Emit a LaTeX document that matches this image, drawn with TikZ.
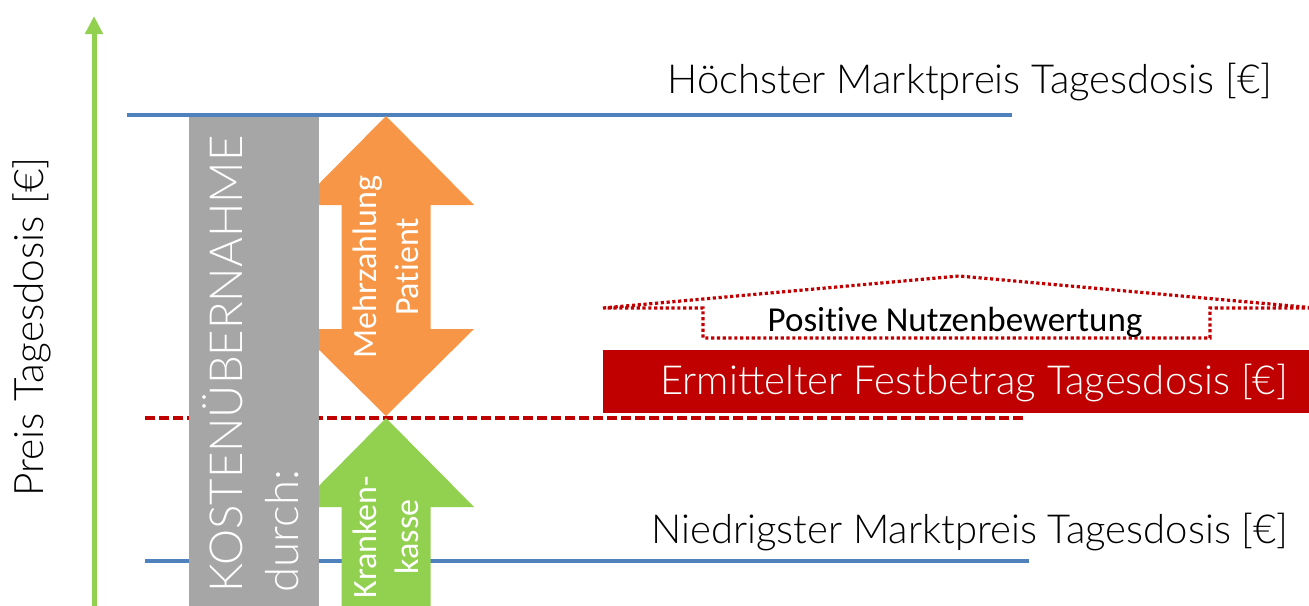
\documentclass[tikz,border=0pt]{standalone}
\usepackage{fontspec}
\setmainfont{Carlito}[Ligatures=NoCommon]
\IfFontExistsTF{Lato Light}{\newfontfamily\thinfont{Lato Light}}{\newfontfamily\thinfont{Lato}}
\usetikzlibrary{arrows.meta}
\definecolor{axisgreen}{HTML}{92D050}
\definecolor{levelblue}{HTML}{4F81BD}
\definecolor{fixred}{HTML}{C00000}
\definecolor{extraorange}{HTML}{F79646}
\definecolor{covergray}{HTML}{A6A6A6}
\tikzset{level line/.style={levelblue, line width=2pt}}
\tikzset{fix line/.style={fixred, line width=2pt, dash pattern=on 5pt off 2pt}}
\tikzset{benefit line/.style={fixred, line width=1.6pt, dash pattern=on 1.6pt off 1.3pt}}
\tikzset{
    price label/.style={font=\thinfont\fontsize{20}{24}\selectfont, anchor=base, inner sep=0pt},
    cover label/.style={font=\thinfont\fontsize{22.8}{27}\selectfont, white, rotate=90, anchor=base west, inner sep=0pt},
    arrow label/.style={font=\fontsize{17}{21}\selectfont, white, align=center, rotate=90, inner sep=0pt}
}

\begin{document}
\begin{tikzpicture}[x=0.5pt, y=-0.5pt]
    \useasboundingbox (0, 0) rectangle (1309, 605);
    \clip (0, 0) rectangle (1309, 605);

    \draw[level line] (127, 115) -- (1012, 115);
    \draw[level line] (145, 561) -- (1029, 561);
    \draw[fix line] (145, 418) -- (1025, 418);

    \fill[extraorange] (386, 116) -- (474, 205) -- (430.5, 205) -- (430.5, 329)
        -- (474, 329) -- (386, 416) -- (298, 329) -- (341.5, 329)
        -- (341.5, 205) -- (298, 205) -- cycle;
    \fill[axisgreen] (386, 418) -- (474, 507) -- (430.5, 507) -- (430.5, 610)
        -- (341.5, 610) -- (341.5, 507) -- (298, 507) -- cycle;
    \fill[covergray] (189, 117) rectangle (319, 610);

    \draw[benefit line] (603, 308) -- (959, 276) -- (1315, 308) -- (1210, 308)
        -- (1210, 338) -- (703, 338) -- (703, 308) -- cycle;
    \fill[fixred] (603, 350) rectangle (1315, 413);

    \coordinate (axis foot) at (94, 610);
    \coordinate (axis head) at (94, 16);
    \draw[axisgreen, line width=2.5pt, -{Triangle[width=8.5pt, length=9pt]}] (axis foot) -- (axis head);
    \node[rotate=90, anchor=base, inner sep=0pt, font=\thinfont\fontsize{20.3}{24}\selectfont] (axis label) at (43, 327) {Preis Tagesdosis [€]};

    \node[price label] (highest) at (970, 93) {Höchster Marktpreis Tagesdosis [€]};
    \node[price label] (lowest) at (970, 543) {Niedrigster Marktpreis Tagesdosis [€]};
    \node[price label, white] (fixed) at (974, 394) {Ermittelter Festbetrag Tagesdosis [€]};
    \node[anchor=base, inner sep=0pt, font=\fontsize{17.5}{21}\selectfont] (benefit) at (955, 331) {Positive Nutzenbewertung};

    \node[cover label] (cover) at (242, 593) {KOSTENÜBERNAHME};
    \node[cover label] (cover by) at (298, 593) {durch:};
    \node[arrow label] (patient) at (386, 267) {Mehrzahlung\\Patient};
    \node[arrow label] (insurer) at (386, 537) {Kranken-\\kasse};

    % \draw[help lines] (0,0) grid[step=50] (1309,605);
\end{tikzpicture}
\end{document}
